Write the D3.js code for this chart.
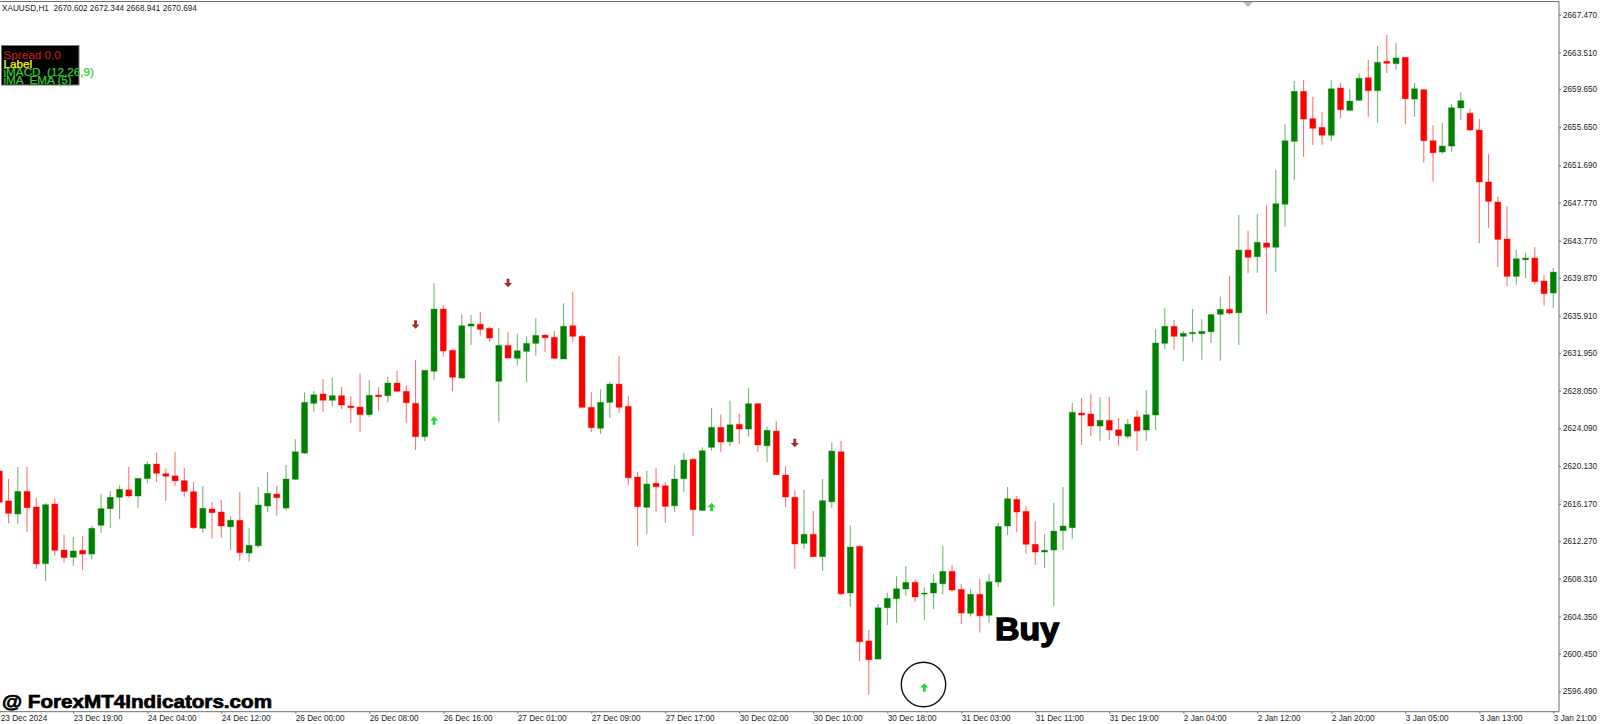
<!DOCTYPE html>
<html>
<head>
<meta charset="utf-8">
<title>XAUUSD,H1</title>
<script src="https://cdn.jsdelivr.net/npm/d3@7/dist/d3.min.js"></script>
<style>
html,body{margin:0;padding:0;background:#fff;overflow:hidden}
svg{display:block}
text{font-family:"Liberation Sans",sans-serif}
</style>
</head>
<body>
<svg id="chart" width="1600" height="724"></svg>
<script>
const headerText = "XAUUSD,H1  2670.602 2672.344 2668.941 2670.694";
const directions = ("rrgrrgrrgr"+"ggggrggrrr"+"rrgrrgrggg"+"rggggrgrrr"+"grgrrrggrr"+"ggrrgrgggr"+"rgrrrggrrr"+"grrggrggrg"+"rgrgrrrgrg"+"grgrrggggr"+"gggrrgrggg"+"rrrggggrrg"+"rrgrgggrgg"+"gggrgrgrgg"+"grrrgrggrg"+"rgrgrrgggr"+"rrrrggrrg").split("");
const highs = [2619.92,2618.76,2620.02,2620.02,2616.77,2616.21,2616.73,2612.89,2612.68,2612.75,
2613.86,2617.18,2617.50,2618.10,2620.05,2618.87,2620.62,2621.52,2619.88,2621.59,
2619.91,2618.48,2618.00,2616.35,2616.56,2614.85,2617.39,2613.59,2617.92,2619.46,
2618.02,2620.23,2622.92,2627.85,2627.99,2629.22,2629.39,2628.41,2627.47,2629.85,
2629.15,2628.38,2629.49,2630.12,2628.55,2631.27,2630.19,2639.29,2636.98,2632.36,
2636.04,2635.96,2636.28,2634.73,2634.60,2634.18,2634.00,2633.73,2635.65,2633.97,
2634.32,2637.19,2638.41,2633.86,2627.85,2628.17,2628.93,2631.66,2627.47,2619.49,
2619.63,2619.88,2618.41,2620.19,2621.48,2620.96,2622.08,2626.21,2625.54,2626.97,
2625.58,2628.30,2626.70,2624.28,2624.81,2620.09,2617.57,2617.63,2615.40,2618.76,
2622.61,2622.75,2613.90,2611.80,2602.92,2605.64,2606.83,2608.55,2609.63,2608.19,
2607.40,2608.79,2611.73,2609.73,2607.71,2607.21,2608.30,2608.79,2614.17,2617.92,
2617.01,2615.89,2614.32,2612.96,2616.27,2617.92,2626.73,2627.26,2627.68,2627.33,
2627.39,2625.16,2625.05,2625.97,2628.06,2634.46,2636.67,2635.44,2634.25,2636.59,
2635.51,2636.07,2637.92,2640.05,2646.49,2644.77,2646.56,2647.47,2651.17,2655.97,
2660.51,2660.59,2658.86,2657.26,2660.59,2660.30,2659.64,2661.32,2662.71,2664.18,
2665.34,2664.50,2663.00,2660.30,2659.64,2655.90,2656.14,2658.07,2659.36,2657.57,
2656.53,2652.82,2648.37,2647.37,2642.78,2642.47,2643.07,2640.16,2640.89];
const bodyTops = [2619.60,2616.46,2617.46,2617.46,2615.83,2616.07,2616.14,2611.31,2611.21,2611.28,
2613.59,2615.65,2616.84,2617.68,2617.62,2618.83,2620.30,2620.33,2619.32,2619.09,
2618.59,2617.43,2615.69,2615.61,2615.30,2614.43,2614.43,2611.80,2616.03,2617.26,
2617.18,2618.76,2621.62,2626.80,2627.60,2627.68,2627.50,2627.50,2626.42,2626.31,
2627.54,2627.57,2628.83,2628.83,2627.96,2626.70,2630.16,2636.59,2636.59,2632.26,
2634.84,2635.02,2634.99,2634.57,2632.78,2632.78,2632.22,2632.99,2633.83,2633.86,
2633.62,2634.78,2634.84,2633.73,2626.28,2626.80,2628.72,2628.72,2626.38,2618.97,
2618.23,2618.31,2618.05,2618.76,2620.75,2620.83,2621.73,2624.18,2624.18,2624.45,
2624.50,2626.66,2626.66,2623.87,2623.79,2619.18,2616.84,2612.96,2612.96,2616.49,
2621.69,2621.62,2611.62,2611.70,2601.76,2605.25,2606.24,2607.25,2607.92,2607.92,
2606.80,2607.85,2609.07,2609.07,2607.18,2606.66,2606.66,2607.98,2613.79,2616.69,
2616.63,2615.37,2611.91,2611.28,2613.30,2613.83,2625.76,2625.68,2625.58,2624.91,
2624.91,2623.93,2624.50,2625.26,2625.50,2633.03,2634.78,2634.78,2634.04,2634.15,
2634.25,2636.00,2636.56,2636.56,2642.78,2642.78,2643.59,2643.52,2647.64,2654.25,
2659.43,2659.43,2656.56,2655.65,2659.70,2659.78,2658.41,2660.80,2660.86,2662.47,
2662.58,2662.93,2663.00,2659.70,2659.60,2654.25,2653.69,2657.71,2658.45,2657.12,
2655.37,2649.92,2647.82,2643.94,2641.87,2641.94,2641.94,2639.53,2640.47];
const bodyBottoms = [2616.32,2615.16,2615.09,2615.75,2609.85,2609.88,2611.28,2610.51,2610.55,2610.89,
2610.89,2613.90,2615.65,2616.84,2616.98,2616.98,2618.80,2619.36,2619.05,2618.56,
2617.47,2613.65,2613.59,2615.23,2613.83,2613.75,2611.03,2610.99,2611.76,2615.93,
2616.80,2615.71,2618.73,2621.48,2626.70,2627.02,2627.02,2626.52,2626.24,2625.51,
2625.51,2627.39,2627.50,2627.96,2626.76,2623.20,2623.20,2630.06,2632.20,2629.43,
2629.35,2634.81,2634.46,2633.55,2629.01,2631.45,2631.42,2632.15,2632.99,2633.58,
2631.42,2631.35,2633.73,2626.28,2624.14,2624.08,2626.80,2626.28,2618.89,2615.85,
2615.79,2617.95,2615.89,2615.95,2618.79,2615.54,2615.47,2622.08,2622.64,2622.67,
2624.00,2624.00,2622.33,2622.25,2619.21,2616.87,2611.94,2612.01,2610.61,2610.61,
2616.37,2606.72,2606.80,2601.69,2599.80,2599.87,2605.25,2606.20,2607.22,2606.38,
2606.69,2606.80,2607.77,2607.11,2604.70,2604.67,2604.41,2604.46,2607.95,2613.83,
2615.30,2611.91,2611.10,2611.10,2611.31,2613.34,2613.65,2625.47,2624.32,2624.32,
2623.90,2623.30,2623.24,2623.82,2623.90,2625.47,2632.99,2633.73,2633.73,2634.00,
2634.00,2634.21,2636.04,2636.17,2636.20,2642.02,2642.08,2643.07,2643.07,2647.58,
2654.19,2656.52,2655.55,2654.82,2654.82,2657.50,2657.44,2658.49,2659.50,2659.50,
2662.37,2662.33,2658.65,2658.62,2654.25,2652.99,2653.06,2653.69,2657.68,2655.37,
2649.92,2647.89,2643.90,2640.02,2640.02,2641.76,2639.46,2638.20,2638.27];
const lows = [2615.51,2614.11,2614.01,2613.21,2609.35,2608.06,2610.72,2609.98,2609.67,2609.22,
2610.33,2613.13,2613.59,2614.56,2616.80,2615.75,2618.31,2618.45,2616.49,2618.03,
2616.90,2613.51,2613.12,2612.49,2612.60,2611.31,2610.19,2610.08,2611.59,2615.30,
2614.91,2615.47,2618.65,2621.38,2625.82,2625.79,2626.39,2626.10,2624.67,2623.66,
2625.23,2625.92,2626.80,2627.85,2624.67,2621.80,2622.75,2629.15,2631.59,2627.96,
2629.32,2632.81,2633.83,2633.16,2624.74,2631.38,2630.68,2628.93,2631.69,2632.08,
2631.38,2631.32,2633.16,2626.15,2623.69,2623.51,2625.16,2625.71,2618.13,2611.70,
2612.99,2615.33,2614.17,2615.33,2617.43,2612.81,2615.43,2621.73,2621.59,2622.19,
2622.43,2623.20,2621.59,2620.54,2619.18,2615.85,2609.35,2611.45,2610.57,2609.14,
2615.71,2606.55,2605.36,2599.63,2596.13,2599.87,2603.44,2603.68,2606.48,2605.88,
2603.96,2605.09,2606.66,2606.93,2603.58,2604.35,2602.67,2603.68,2607.42,2612.89,
2613.17,2610.92,2609.77,2609.42,2605.40,2611.31,2612.49,2622.33,2623.27,2622.75,
2622.88,2622.25,2622.98,2621.70,2622.78,2623.90,2632.40,2632.32,2631.11,2633.16,
2631.27,2633.06,2631.17,2636.00,2632.81,2640.34,2640.40,2636.10,2640.47,2645.22,
2650.10,2652.57,2653.80,2653.83,2654.22,2656.63,2657.40,2658.45,2656.77,2656.14,
2661.32,2661.70,2655.97,2656.77,2651.94,2649.95,2652.85,2653.06,2656.39,2655.27,
2643.49,2645.09,2640.99,2638.97,2639.11,2639.85,2639.18,2636.94,2636.70];

const priceTicks = [2667.47,2663.51,2659.65,2655.65,2651.69,2647.77,2643.77,2639.87,2635.91,2631.95,2628.05,2624.09,2620.13,2616.17,2612.27,2608.31,2604.35,2600.45,2596.49];
const timeLabels = ["23 Dec 2024","23 Dec 19:00","24 Dec 04:00","24 Dec 12:00","26 Dec 00:00","26 Dec 08:00","26 Dec 16:00","27 Dec 01:00","27 Dec 09:00","27 Dec 17:00","30 Dec 02:00","30 Dec 10:00","30 Dec 18:00","31 Dec 03:00","31 Dec 11:00","31 Dec 19:00","2 Jan 04:00","2 Jan 12:00","2 Jan 20:00","3 Jan 05:00","3 Jan 13:00","3 Jan 21:00"];
const timeTickIndexes = timeLabels.map((_, k) => k * 8);

const upArrowBars = [47, 77, 100];
const upArrowPrices = [2624.87, 2615.79, 2596.86];
const downArrowBars = [45, 55, 86];
const downArrowPrices = [2635.0, 2639.35, 2622.57];

const legendLines = ["Spread 0.0", "Label", "iMACD  (12,26,9)", "iMA  EMA (5)"];
const legendColors = ["#b81c1c", "#ffff00", "#32cd32", "#32cd32"];

const green = "#008000", red = "#ff0000", frame = "#6e6e6e";
const svg = d3.select("#chart");
const x = d3.scaleLinear().domain([0, 168]).range([-0.7, 1553.3]);
const y = d3.scaleLinear().domain([2596.49, 2667.47]).range([691.3, 14.7]);
const plotRight = 1559, plotBottom = 711.7, plotTop = 1.5;
const bodyWidth = 6;

const bars = d3.range(highs.length);
const colorOf = i => directions[i] === "g" ? green : red;

// wicks
svg.append("g").selectAll("line").data(bars).join("line")
  .attr("x1", i => x(i)).attr("x2", i => x(i))
  .attr("y1", i => y(highs[i])).attr("y2", i => y(lows[i]))
  .attr("stroke", colorOf).attr("stroke-width", 1.1).attr("stroke-opacity", 0.55);
// bodies, with the soft edge that the reference shows
svg.append("g").selectAll("rect").data(bars).join("rect")
  .attr("x", i => x(i) - bodyWidth / 2).attr("width", bodyWidth)
  .attr("y", i => y(bodyTops[i]))
  .attr("height", i => Math.max(1, y(bodyBottoms[i]) - y(bodyTops[i])))
  .attr("fill", colorOf).attr("stroke", colorOf).attr("stroke-width", 1).attr("stroke-opacity", 0.35);

// frame
svg.append("path").attr("fill", "none").attr("stroke", frame).attr("stroke-width", 1)
  .attr("d", `M0,${plotTop}H${plotRight}V${plotBottom}H0`);
svg.append("path").attr("fill", "#b9b9b9").attr("d", "M1243,2H1253L1248,7Z");

// axes
const axisRight = d3.axisRight(y).tickValues(priceTicks).tickSize(2).tickPadding(2).tickFormat(d3.format(".3f"));
const gy = svg.append("g").attr("transform", `translate(${plotRight},0)`).call(axisRight);
const axisBottom = d3.axisBottom(x).tickValues(timeTickIndexes).tickSize(2).tickPadding(1.5)
  .tickFormat((d, k) => timeLabels[k]);
const gx = svg.append("g").attr("transform", `translate(0,${plotBottom})`).call(axisBottom);
gx.selectAll("text").attr("text-anchor", "start").attr("dx", (d, k) => k === 0 ? 1 : 0);
[gx, gy].forEach(g => {
  g.select(".domain").remove();
  g.selectAll("line").attr("stroke", frame);
  g.selectAll("text").attr("fill", "#222").style("font-size", "8.2px");
});

// header
svg.append("text").attr("x", 2).attr("y", 11).attr("fill", "#222").style("font-size", "8.2px")
  .attr("xml:space", "preserve").text(headerText);

// arrows
const arrow = "M0,-4.5L4,-0.2L1.4,-0.2L1.4,4L-1.4,4L-1.4,-0.2L-4,-0.2Z";
svg.append("g").selectAll("path").data(upArrowBars).join("path")
  .attr("d", arrow).attr("fill", "#22d43c")
  .attr("transform", (d, k) => `translate(${x(d)},${y(upArrowPrices[k])})`);
svg.append("g").selectAll("path").data(downArrowBars).join("path")
  .attr("d", arrow).attr("fill", "#a52a2a")
  .attr("transform", (d, k) => `translate(${x(d)},${y(downArrowPrices[k])}) rotate(180)`);

// circle
svg.append("circle").attr("cx", 923.5).attr("cy", 684.5).attr("r", 22.2)
  .attr("fill", "none").attr("stroke", "#111").attr("stroke-width", 1.4);

// legend box
svg.append("rect").attr("x", 1.5).attr("y", 45.5).attr("width", 77.5).attr("height", 39.5)
  .attr("fill", "#000").attr("stroke", "#777").attr("stroke-width", 1);
svg.append("g").selectAll("text").data(legendLines).join("text")
  .attr("x", 3.5).attr("y", (d, k) => 59.3 + k * 8.25)
  .attr("fill", (d, k) => legendColors[k]).attr("stroke", (d, k) => legendColors[k]).attr("stroke-width", 0.25)
  .attr("xml:space", "preserve")
  .style("font-size", "11.7px").text(d => d);

// annotations
svg.append("text").attr("x", 995).attr("y", 640).attr("fill", "#000")
  .attr("stroke", "#000").attr("stroke-width", 1.4)
  .attr("textLength", 64).attr("lengthAdjust", "spacingAndGlyphs")
  .style("font-weight", "700").style("font-size", "32px").text("Buy");
svg.append("text").attr("x", 2).attr("y", 707.7).attr("fill", "#000")
  .attr("stroke", "#000").attr("stroke-width", 0.7)
  .attr("textLength", 270).attr("lengthAdjust", "spacingAndGlyphs")
  .style("font-weight", "700").style("font-size", "18.6px").text("@ ForexMT4Indicators.com");
</script>
</body>
</html>
